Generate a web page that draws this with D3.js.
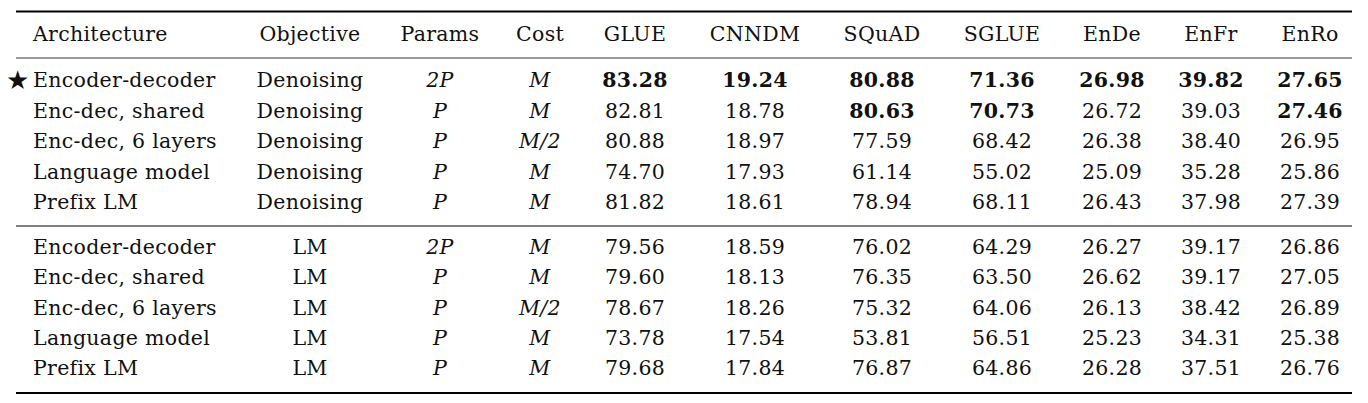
<!DOCTYPE html>
<html><head><meta charset="utf-8">
<script src="https://cdn.jsdelivr.net/npm/d3@7"></script>
<style>
body{margin:0;background:#fff}
text{font-family:"DejaVu Serif",serif;font-size:20.5px;fill:#111;letter-spacing:0.3px}
</style></head><body>
<svg id="t" width="1368" height="403"></svg>
<script>
// ---------- Data ----------
const columns = ["Architecture","Objective","Params","Cost","GLUE","CNNDM","SQuAD","SGLUE","EnDe","EnFr","EnRo"];
const architectures = ["Encoder-decoder","Enc-dec, shared","Enc-dec, 6 layers","Language model","Prefix LM"];
const objectives = ["Denoising","LM"];
const params = ["2P","P","P","P","P"];
const costs = ["M","M","M/2","M","M"];
const scoresDenoising = [
  [83.28,19.24,80.88,71.36,26.98,39.82,27.65],
  [82.81,18.78,80.63,70.73,26.72,39.03,27.46],
  [80.88,18.97,77.59,68.42,26.38,38.40,26.95],
  [74.70,17.93,61.14,55.02,25.09,35.28,25.86],
  [81.82,18.61,78.94,68.11,26.43,37.98,27.39]
];
const scoresLM = [
  [79.56,18.59,76.02,64.29,26.27,39.17,26.86],
  [79.60,18.13,76.35,63.50,26.62,39.17,27.05],
  [78.67,18.26,75.32,64.06,26.13,38.42,26.89],
  [73.78,17.54,53.81,56.51,25.23,34.31,25.38],
  [79.68,17.84,76.87,64.86,26.28,37.51,26.76]
];
// bold cells: [row, metric index]
const boldCells = [[0,0],[0,1],[0,2],[0,3],[0,4],[0,5],[0,6],[1,2],[1,3],[1,6]];

// ---------- Layout ----------
const colX = d3.scaleOrdinal().domain(columns)
  .range([33,310,440,540,635,755,882,1002,1112,1211,1310]);
const rows = [];
objectives.forEach((obj,g) => architectures.forEach((a,i) => rows.push({g, i, obj, a,
  vals:(g===0?scoresDenoising:scoresLM)[i]})));
const y = d3.scaleLinear().domain([0,4]).range([80,202]);
const y2 = d3.scaleLinear().domain([0,4]).range([247,368]);
const rowY = r => (r.g===0 ? y : y2)(r.i);

const svg = d3.select("#t");
const line = (yy,w) => svg.append("line").attr("x1",16).attr("x2",1352)
  .attr("y1",yy).attr("y2",yy).attr("stroke","#000").attr("stroke-width",w);
line(11.5,1.8); line(58,0.8); line(226,1.2); line(393,1.8);

// header
svg.selectAll(".h").data(columns).join("text")
  .attr("x", d => colX(d)).attr("y", 34).attr("dy","0.35em")
  .attr("text-anchor", (d,i) => i===0 ? "start" : "middle").text(d => d);

const gr = svg.selectAll(".r").data(rows).join("g")
  .attr("transform", r => `translate(0,${rowY(r)})`);
gr.append("text").attr("x",colX("Architecture")).attr("dy","0.35em").text(r => r.a);
gr.filter(r => r.g===0 && r.i===0).append("text").attr("x",6).attr("dy","0.35em")
  .style("font-size","26px").text("★");
gr.append("text").attr("x",colX("Objective")).attr("dy","0.35em").attr("text-anchor","middle").text(r => r.obj);
gr.append("text").attr("x",colX("Params")).attr("dy","0.35em").attr("text-anchor","middle")
  .style("font-style","italic").text(r => params[r.i]);
gr.append("text").attr("x",colX("Cost")).attr("dy","0.35em").attr("text-anchor","middle")
  .style("font-style","italic").text(r => costs[r.i]);
gr.each(function(r){
  d3.select(this).selectAll(".v").data(r.vals).join("text")
    .attr("x",(v,k) => colX(columns[k+4])).attr("dy","0.35em").attr("text-anchor","middle")
    .style("font-weight",(v,k) => r.g===0 && boldCells.some(b => b[0]===r.i && b[1]===k) ? "bold" : "normal")
    .text(v => v.toFixed(2));
});
</script></body></html>
